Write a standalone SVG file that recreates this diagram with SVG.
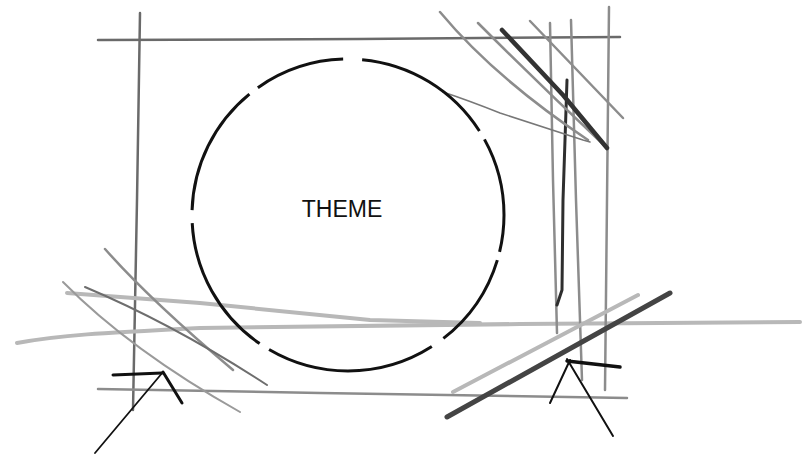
<svg xmlns="http://www.w3.org/2000/svg" width="803" height="456" viewBox="0 0 803 456">
  <style>
    .p { fill: none; stroke-linecap: round; stroke-linejoin: round; }
    .light { stroke: #b8b8b8; stroke-width: 4; }
    .mid { stroke: #8c8c8c; stroke-width: 2.5; }
    .dark { stroke: #6a6a6a; stroke-width: 2.5; }
    .ink { stroke: #111; }
    .label { font-family: "Liberation Sans", Arial, sans-serif; font-size: 23px; fill: #111; }
  </style>
  <rect width="803" height="456" fill="#ffffff"/>

  <g id="sketch-frame">
    <!-- top horizontal -->
    <path class="p dark" d="M98,40 L360,39 L620,37"/>
    <!-- left vertical -->
    <path class="p dark" stroke-width="3" d="M140,13 L137,200 L133,410"/>
    <!-- bottom horizontal -->
    <path class="p mid" stroke-width="3" d="M98,389 L320,393 L627,398"/>
    <!-- ground line -->
    <path class="p light" d="M17,343 C60,335 100,333 200,328 L520,324 L800,322"/>
    <path class="p light" stroke="#c6c6c6" stroke-width="2.5" d="M67,293 L200,303 L370,320 L480,323"/>
    <!-- right verticals -->
    <path class="p mid" stroke-width="3" d="M550,23 L553,180 L557,333"/>
    <path class="p mid" stroke-width="3" d="M571,20 L576,200 L582,380"/>
    <path class="p mid" stroke-width="2.5" d="M609,7 L607,200 L605,390"/>
    <path class="p" stroke="#2e2e2e" stroke-width="3" d="M567,80 L563,200 L562,290 L557,305"/>
  </g>

  <g id="sketch-top-right">
    <path class="p mid" stroke-width="2" d="M440,12 Q495,78 588,140"/>
    <path class="p mid" stroke-width="2.5" d="M478,23 Q540,85 606,147"/>
    <path class="p" stroke="#333" stroke-width="4.5" d="M502,30 L563,95 L607,148"/>
    <path class="p mid" stroke-width="2.5" d="M530,21 L623,118"/>
    <path class="p" stroke="#777" stroke-width="1.5" d="M443,92 Q470,101 500,113 L583,140 L590,142"/>
  </g>

  <g id="sketch-bottom-left">
    <path class="p mid" stroke-width="2" d="M105,249 Q150,300 233,370"/>
    <path class="p" stroke="#6e6e6e" stroke-width="2" d="M85,287 Q175,325 267,385"/>
    <path class="p" stroke="#9a9a9a" stroke-width="2" d="M63,282 Q130,350 240,412"/>
  </g>

  <g id="sketch-bottom-right">
    <path class="p light" stroke-width="4" d="M453,392 L638,295"/>
    <path class="p" stroke="#444" stroke-width="5" d="M447,417 L670,293"/>
  </g>

  <g id="theme">
    <circle cx="348" cy="215" r="156" pathLength="360" fill="none" stroke="#111" stroke-width="3"
      stroke-dasharray="13.7 3.1 35.5 5.2 62.9 4.1 52.5 4.8 49 3.9 33.5 7 52.2 3.6 29 0"/>
    <text class="label" x="342" y="217" text-anchor="middle">THEME</text>
  </g>

  <g id="connectors">
    <g id="arrow-left">
      <path class="p ink" stroke-width="1.8" d="M95,453 L163,372"/>
      <path class="p ink" stroke-width="3" d="M163,372 L182,403"/>
      <path class="p ink" stroke-width="3" d="M113,375 L162,373"/>
    </g>
    <g id="arrow-right">
      <path class="p ink" stroke-width="2" d="M550,403 L570,360"/>
      <path class="p ink" stroke-width="2" d="M567,359 L613,436"/>
      <path class="p ink" stroke-width="3.5" d="M567,361 L620,367"/>
    </g>
  </g>
</svg>
